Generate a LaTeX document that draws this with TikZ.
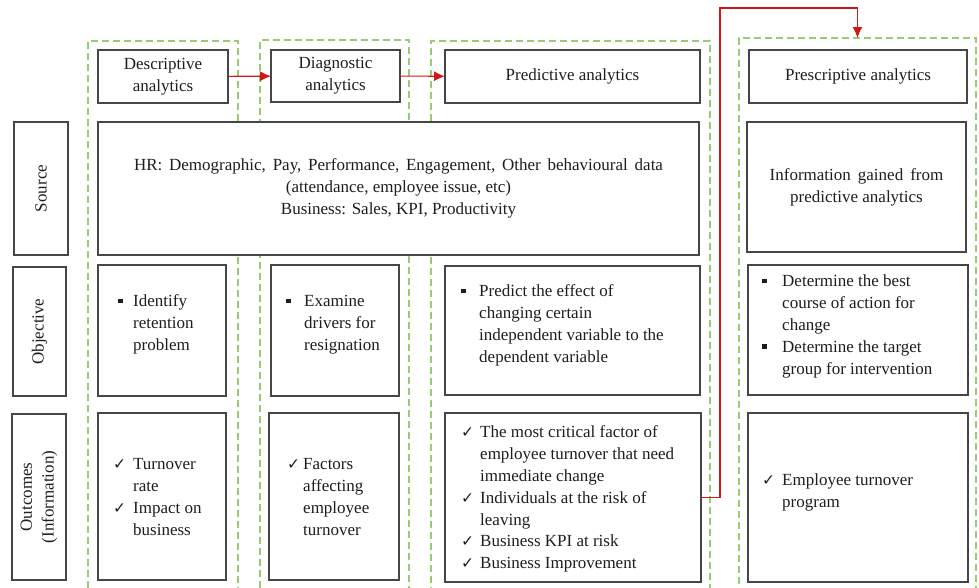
\documentclass[tikz,border=0pt]{standalone}
\usepackage{fontspec}
\setmainfont{Liberation Serif}
\newfontfamily\symfont{DejaVu Sans}
\usetikzlibrary{positioning,arrows.meta}

\definecolor{framegreen}{RGB}{150,205,110}
\definecolor{flowred}{RGB}{205,25,25}
\definecolor{boxgray}{RGB}{70,70,70}
\definecolor{inkgray}{RGB}{30,30,30}

% list marks: square bullet and tick, each in a box of given width
\newcommand{\sqb}[1][18pt]{\makebox[#1][l]{\rule[3.5pt]{4.5pt}{4.5pt}}}
\newcommand{\ckb}[1][20pt]{\makebox[#1][l]{\symfont\fontsize{15.5}{15.5}\selectfont ✓}}
\newcommand{\ind}[1][18pt]{\hspace*{#1}}

\tikzset{
    box/.style={draw=boxgray, line width=1.1pt, fill=white, inner sep=0pt, outer sep=0pt, align=center},
    frame/.style={draw=framegreen, line width=1.2pt, dash pattern=on 7pt off 4pt, inner sep=0pt, outer sep=0pt},
    flow/.style={draw=flowred, line width=1.1pt, -{Latex[length=11pt,width=10pt]}},
    txt/.style={anchor=north west, inner sep=0pt, align=left}
}

\begin{document}
\begin{tikzpicture}[x=1pt, y=-1pt, font=\fontsize{17}{21.8}\selectfont, text=inkgray]
    \useasboundingbox (0,0) rectangle (979,587);
    \clip (0,0) rectangle (979,587);

    % dashed columns
    \node[frame, minimum width=150, minimum height=579] (fdesc) at (163,330.5) {};
    \node[frame, minimum width=149, minimum height=580] (fdiag) at (334.5,330) {};
    \node[frame, minimum width=279, minimum height=579] (fpred) at (570.5,330.5) {};
    \node[frame, minimum width=237, minimum height=582] (fpres) at (857.5,329) {};

    % headers
    \node[box, minimum width=130, minimum height=53] (desc) at (163,76.5) {Descriptive\\analytics};
    \node[box, minimum width=129, minimum height=52] (diag) at (335.5,76) {Diagnostic\\analytics};
    \node[box, minimum width=255, minimum height=53] (pred) at (572.5,76.5) {Predictive analytics};
    \node[box, minimum width=218, minimum height=53] (pres) at (858,76.5) {Prescriptive analytics};

    % row labels
    \node[box, rotate=90, minimum width=133, minimum height=54] (srclab) at (41,188.5) {Source};
    \node[box, rotate=90, minimum width=129, minimum height=53] (objlab) at (39.5,331.5) {Objective};
    \node[box, rotate=90, minimum width=166, minimum height=54] (outlab) at (39,497) {Outcomes\\(Information)};

    % source row
    \node[box, minimum width=601, minimum height=133] (srcall) at (398.5,188.5)
        {\spaceskip=6.8pt HR: Demographic, Pay, Performance, Engagement, Other behavioural data\\
         (attendance, employee issue, etc)\\
         Business: Sales, KPI, Productivity};
    \node[box, minimum width=219, minimum height=130] (srcpres) at (856.5,187)
        {\spaceskip=7pt Information gained from\\predictive analytics};

    % objective row
    \node[box, minimum width=128, minimum height=131] (objdesc) at (162,330.5) {};
    \node[box, minimum width=128, minimum height=131] (objdiag) at (335,330.5) {};
    \node[box, minimum width=255, minimum height=129] (objpred) at (572.5,330.5) {};
    \node[box, minimum width=220, minimum height=130] (objpres) at (858,330) {};

    \node[txt] (tobjdesc) at (118,291.5) {\strut\sqb[15pt]Identify\\ \ind[15pt]retention\\ \ind[15pt]problem};
    \node[txt] (tobjdiag) at (286,291.5) {\strut\sqb Examine\\ \ind drivers for\\ \ind resignation};
    \node[txt] (tobjpred) at (461,281.5) {\strut\sqb Predict the effect of\\ \ind changing certain\\
        \ind independent variable to the\\ \ind dependent variable};
    \node[txt] (tobjpres) at (762,271.5) {\strut\sqb[20pt]Determine the best\\ \ind[20pt]course of action for\\
        \ind[20pt]change\\ \sqb[20pt]Determine the target\\ \ind[20pt]group for intervention};

    % outcome row
    \node[box, minimum width=128, minimum height=167] (outdesc) at (162,496.5) {};
    \node[box, minimum width=130, minimum height=167] (outdiag) at (334,496.5) {};
    \node[box, minimum width=256, minimum height=169] (outpred) at (573,497.5) {};
    \node[box, minimum width=220, minimum height=169] (outpres) at (858,497.5) {};

    \node[txt] (toutdesc) at (113,454.5) {\strut\ckb Turnover\\ \ind[20pt]rate\\ \ckb Impact on\\ \ind[20pt]business};
    \node[txt] (toutdiag) at (287,454.5) {\strut\ckb[16pt]Factors\\ \ind[16pt]affecting\\ \ind[16pt]employee\\ \ind[16pt]turnover};
    \node[txt] (toutpred) at (461,422.5) {\strut\ckb[19pt]The most critical factor of\\ \ind[19pt]employee turnover that need\\
        \ind[19pt]immediate change\\ \ckb[19pt]Individuals at the risk of\\ \ind[19pt]leaving\\
        \ckb[19pt]Business KPI at risk\\ \ckb[19pt]Business Improvement};
    \node[txt] (toutpres) at (762,470.5) {\strut\ckb Employee turnover\\ \ind[20pt]program};

    % flow between stages
    \coordinate (lift) at (720,8);
    \draw[flow] (desc) -- (diag);
    \draw[flow] (diag) -- (pred);
    \draw[flow] (outpred.east) -| (lift) -| (fpres.north);
\end{tikzpicture}
\end{document}
